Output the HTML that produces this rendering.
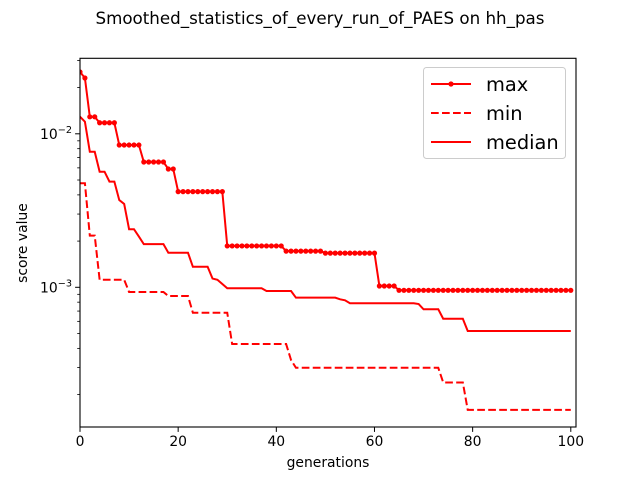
<!DOCTYPE html>
<html><head><meta charset="utf-8"><style>
html,body{margin:0;padding:0;background:#fff;}
svg{display:block;font-family:"DejaVu Sans","Liberation Sans",sans-serif;}
</style></head><body>
<svg id="chart" width="640" height="480" viewBox="0 0 640 480" xmlns="http://www.w3.org/2000/svg">
<rect width="640" height="480" fill="#fff"/>
<text x="320" y="24" text-anchor="middle" font-size="16.7">Smoothed_statistics_of_every_run_of_PAES on hh_pas</text>
<g id="series"></g>
<g id="axes"></g>
<text x="328" y="467" text-anchor="middle" font-size="13.9">generations</text>
<text x="0" y="0" transform="translate(27,243) rotate(-90)" text-anchor="middle" font-size="13.9">score value</text>
<g>
<rect x="423.5" y="67.5" width="142" height="91" rx="3" fill="#fff" fill-opacity="0.8" stroke="#ccc"/>
<g>
<line x1="431" y1="84" x2="471" y2="84" stroke="red" stroke-width="2"/><circle cx="451" cy="84" r="2.6" fill="red"/>
<text x="486" y="91" font-size="19.4">max</text></g>
<g>
<line x1="431" y1="113" x2="471" y2="113" stroke="red" stroke-width="2" stroke-dasharray="7.7,3.3"/>
<text x="486" y="120" font-size="19.4">min</text></g>
<g>
<line x1="431" y1="142" x2="471" y2="142" stroke="red" stroke-width="2"/>
<text x="486" y="149" font-size="19.4">median</text></g>
</g>
</svg>
<script>
const generations = Array.from({length:101},(_, i)=>i);
const maxValues = [0.0253,0.0231,0.0129,0.0129,0.0118,0.0118,0.0118,0.0118,0.00845,0.00845,0.00845,0.00845,0.00845,0.00655,0.00655,0.00655,0.00655,0.00655,0.0059,0.0059,
0.0042,0.0042,0.0042,0.0042,0.0042,0.0042,0.0042,0.0042,0.0042,0.0042,
0.00186,0.00186,0.00186,0.00186,0.00186,0.00186,0.00186,0.00186,0.00186,0.00186,0.00186,0.00186,
0.00172,0.00172,0.00172,0.00172,0.00172,0.00172,0.00172,0.00172,
0.00167,0.00167,0.00167,0.00167,0.00167,0.00167,0.00167,0.00167,0.00167,0.00167,0.00167,
0.00102,0.00102,0.00102,0.00102,
0.000956,0.000956,0.000956,0.000956,0.000956,0.000956,0.000956,0.000956,0.000956,0.000956,0.000956,0.000956,0.000956,0.000956,0.000956,0.000956,0.000956,0.000956,0.000956,0.000956,0.000956,0.000956,0.000956,0.000956,0.000956,0.000956,0.000956,0.000956,0.000956,0.000956,0.000956,0.000956,0.000956,0.000956,0.000956,0.000956];
const minValues = [0.00476,0.00476,0.00217,0.00217,0.00112,0.00112,0.00112,0.00112,0.00112,0.00112,
0.000932,0.000932,0.000932,0.000932,0.000932,0.000932,0.000932,0.000932,
0.000878,0.000878,0.000878,0.000878,0.000878,
0.000683,0.000683,0.000683,0.000683,0.000683,0.000683,0.000683,0.000683,
0.000427,0.000427,0.000427,0.000427,0.000427,0.000427,0.000427,0.000427,0.000427,0.000427,0.000427,0.000427,
0.000336,
0.000299,0.000299,0.000299,0.000299,0.000299,0.000299,0.000299,0.000299,0.000299,0.000299,0.000299,0.000299,0.000299,0.000299,0.000299,0.000299,0.000299,0.000299,0.000299,0.000299,0.000299,0.000299,0.000299,0.000299,0.000299,0.000299,0.000299,0.000299,0.000299,0.000299,
0.00024,0.00024,0.00024,0.00024,0.00024,
0.000159,0.000159,0.000159,0.000159,0.000159,0.000159,0.000159,0.000159,0.000159,0.000159,0.000159,0.000159,0.000159,0.000159,0.000159,0.000159,0.000159,0.000159,0.000159,0.000159,0.000159,0.000159];
const medianValues = [0.01292,0.01199,0.00764,0.00764,0.00566,0.00566,0.00488,0.00488,0.0037,0.00349,0.00239,0.00239,0.00214,
0.00191,0.00191,0.00191,0.00191,0.00191,
0.00168,0.00168,0.00168,0.00168,0.00168,
0.00136,0.00136,0.00136,0.00136,0.00114,0.00112,0.00105,
0.000985,0.000985,0.000985,0.000985,0.000985,0.000985,0.000985,0.000985,
0.000946,0.000946,0.000946,0.000946,0.000946,0.000946,
0.000856,0.000856,0.000856,0.000856,0.000856,0.000856,0.000856,0.000856,0.000856,
0.000835,0.000823,
0.000787,0.000787,0.000787,0.000787,0.000787,0.000787,0.000787,0.000787,0.000787,0.000787,0.000787,0.000787,0.000787,0.000787,
0.000778,0.000719,0.000719,0.000719,0.000719,
0.000624,0.000624,0.000624,0.000624,0.000624,
0.000519,0.000519,0.000519,0.000519,0.000519,0.000519,0.000519,0.000519,0.000519,0.000519,0.000519,0.000519,0.000519,0.000519,0.000519,0.000519,0.000519,0.000519,0.000519,0.000519,0.000519,0.000519];
const xTicks = [0,20,40,60,80,100];
const yMajorExps = [-3,-2];

const L=80,R=576,T=58.3,B=427;
const X0=0,X1=101.06;
const Y10m3=287.3, DEC=153.5;
const xs=v=>L+(v-X0)/(X1-X0)*(R-L);
const ys=v=>Y10m3-(Math.log10(v)+3)*DEC;
const NS="http://www.w3.org/2000/svg";
function mk(tag,attrs,parent){const e=document.createElementNS(NS,tag);for(const k in attrs)e.setAttribute(k,attrs[k]);parent.appendChild(e);return e;}
const S=document.getElementById('series'), A=document.getElementById('axes');
const clip=mk('clipPath',{id:'clip'},document.getElementById('chart'));
mk('rect',{x:L,y:T,width:R-L,height:B-T},clip);
S.setAttribute('clip-path','url(#clip)');
function pts(arr){return arr.map((v,i)=>xs(generations[i]).toFixed(2)+','+ys(v).toFixed(2)).join(' ');}
let p;
p=mk('polyline',{points:pts(minValues),fill:'none',stroke:'red','stroke-width':2,'stroke-dasharray':'7.7,3.3'},S);


p=mk('polyline',{points:pts(medianValues),fill:'none',stroke:'red','stroke-width':2},S);


p=mk('polyline',{points:pts(maxValues),fill:'none',stroke:'red','stroke-width':2},S);


maxValues.forEach((v,i)=>{
  const c=mk('circle',{cx:xs(generations[i]),cy:ys(v),r:2.6,fill:'red'},S);
  
  
});
// axes frame
const fr=mk('rect',{x:L,y:T,width:R-L,height:B-T,fill:'none',stroke:'#000','stroke-width':1.1},A);


xTicks.forEach(t=>{
  const x=xs(t);
  const tk=mk('line',{x1:x,y1:B,x2:x,y2:B+4.9,stroke:'#000','stroke-width':1},A);
  
  
  const tx=mk('text',{x:x,y:B+19,'text-anchor':'middle','font-size':13.9},A);
  tx.textContent=String(t);
  
  
});
yMajorExps.forEach(e=>{
  const y=ys(Math.pow(10,e));
  const tk=mk('line',{x1:L-4.9,y1:y,x2:L,y2:y,stroke:'#000','stroke-width':1},A);
  
  
  const tx=mk('text',{x:L-8,y:y+5,'text-anchor':'end','font-size':13.9},A);
  
  
  const t1=mk('tspan',{},tx); t1.textContent='10';
  const t2=mk('tspan',{dy:-6,'font-size':9.7},tx); t2.textContent='\u2212'+Math.abs(e);
});
[-4,-3,-2].forEach(e=>{for(let m=2;m<=9;m++){
  const v=m*Math.pow(10,e), y=ys(v);
  if(y<T||y>B) continue;
  const tk=mk('line',{x1:L-2.8,y1:y,x2:L,y2:y,stroke:'#000','stroke-width':0.8},A);
  
  
}});
</script>
</body></html>
